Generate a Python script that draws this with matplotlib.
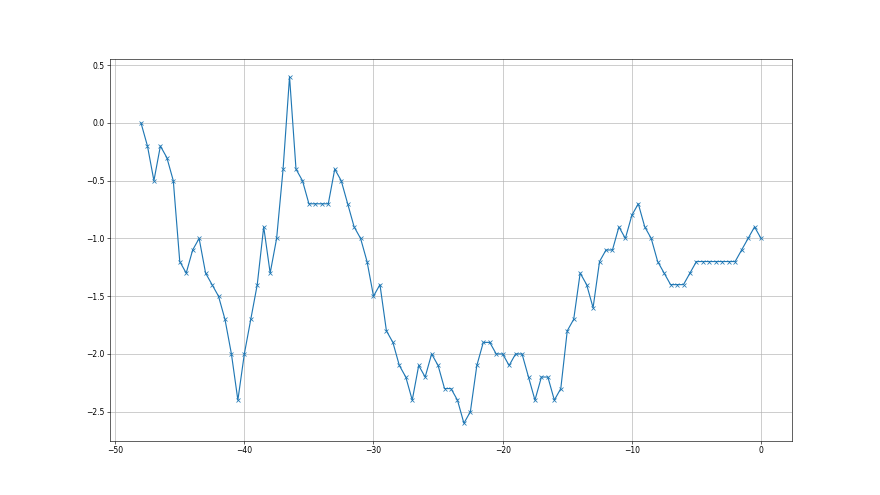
import matplotlib
matplotlib.use('Agg')
import matplotlib.pyplot as plt

# x positions (half-unit steps from -48 to 0)
x_vals = [-48.0, -47.5, -47.0, -46.5, -46.0, -45.5, -45.0, -44.5, -44.0, -43.5,
          -43.0, -42.5, -42.0, -41.5, -41.0, -40.5, -40.0, -39.5, -39.0, -38.5,
          -38.0, -37.5, -37.0, -36.5, -36.0, -35.5, -35.0, -34.5, -34.0, -33.5,
          -33.0, -32.5, -32.0, -31.5, -31.0, -30.5, -30.0, -29.5, -29.0, -28.5,
          -28.0, -27.5, -27.0, -26.5, -26.0, -25.5, -25.0, -24.5, -24.0, -23.5,
          -23.0, -22.5, -22.0, -21.5, -21.0, -20.5, -20.0, -19.5, -19.0, -18.5,
          -18.0, -17.5, -17.0, -16.5, -16.0, -15.5, -15.0, -14.5, -14.0, -13.5,
          -13.0, -12.5, -12.0, -11.5, -11.0, -10.5, -10.0, -9.5, -9.0, -8.5,
          -8.0, -7.5, -7.0, -6.5, -6.0, -5.5, -5.0, -4.5, -4.0, -3.5,
          -3.0, -2.5, -2.0, -1.5, -1.0, -0.5, 0.0]

y_vals = [0.0, -0.2, -0.5, -0.2, -0.3, -0.5, -1.2, -1.3, -1.1, -1.0,
          -1.3, -1.4, -1.5, -1.7, -2.0, -2.4, -2.0, -1.7, -1.4, -0.9,
          -1.3, -1.0, -0.4, 0.4, -0.4, -0.5, -0.7, -0.7, -0.7, -0.7,
          -0.4, -0.5, -0.7, -0.9, -1.0, -1.2, -1.5, -1.4, -1.8, -1.9,
          -2.1, -2.2, -2.4, -2.1, -2.2, -2.0, -2.1, -2.3, -2.3, -2.4,
          -2.6, -2.5, -2.1, -1.9, -1.9, -2.0, -2.0, -2.1, -2.0, -2.0,
          -2.2, -2.4, -2.2, -2.2, -2.4, -2.3, -1.8, -1.7, -1.3, -1.4,
          -1.6, -1.2, -1.1, -1.1, -0.9, -1.0, -0.8, -0.7, -0.9, -1.0,
          -1.2, -1.3, -1.4, -1.4, -1.4, -1.3, -1.2, -1.2, -1.2, -1.2,
          -1.2, -1.2, -1.2, -1.1, -1.0, -0.9, -1.0]

fig, ax = plt.subplots(figsize=(16, 9), dpi=55)

ax.plot(x_vals, y_vals, marker='x')
ax.grid(True)

plt.savefig('out.png', dpi=55)
plt.close()
